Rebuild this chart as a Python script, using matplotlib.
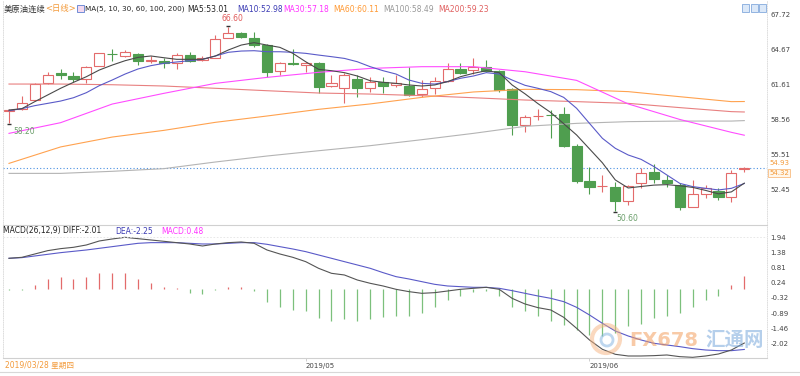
import matplotlib
matplotlib.use("Agg")
import matplotlib.pyplot as plt
from matplotlib.patches import Rectangle, Circle
import numpy as np

plt.rcParams['font.family'] = ['DejaVu Sans', 'Noto Sans CJK SC']

# ---- daily candles, 2019/03/28 .. 2019/06/19 ----
opens = [59.30, 59.45, 60.20, 61.70, 62.55, 62.33, 62.04, 63.23, 64.28, 64.10,
         64.24, 63.60, 63.66, 63.49, 64.15, 63.72, 63.92, 65.66, 66.04, 65.60,
         65.02, 62.79, 63.43, 63.28, 63.43, 61.46, 61.26, 62.04, 61.26, 61.84,
         61.52, 61.46, 60.76, 61.26, 61.92, 62.91, 62.85, 63.08, 62.79, 61.17,
         58.07, 58.85, 58.95, 58.99, 56.24, 53.20, 52.75, 52.65, 51.49, 52.99,
         54.01, 53.29, 52.85, 50.91, 52.07, 52.33, 51.84, 54.20]
highs = [59.50, 60.55, 61.75, 62.70, 62.90, 62.70, 63.20, 64.36, 64.65, 64.60,
         64.36, 64.07, 63.86, 64.30, 64.44, 64.10, 65.89, 66.60, 66.18, 66.18,
         65.11, 63.57, 64.65, 63.57, 63.57, 62.42, 62.56, 62.42, 62.27, 62.27,
         62.42, 63.14, 61.98, 62.21, 63.43, 63.49, 63.86, 63.72, 62.85, 61.26,
         58.94, 59.43, 59.37, 59.60, 56.42, 54.45, 53.72, 53.14, 52.85, 54.30,
         54.68, 53.72, 52.99, 53.29, 52.85, 52.56, 54.15, 54.45]
lows = [58.20, 59.40, 60.15, 61.60, 62.05, 61.85, 61.75, 63.23, 63.66, 64.00,
        63.28, 63.49, 63.05, 62.91, 63.57, 63.66, 63.90, 65.60, 65.60, 64.88,
        62.27, 62.42, 63.28, 62.70, 60.82, 61.40, 60.01, 60.53, 60.97, 60.82,
        61.40, 60.59, 60.53, 60.76, 61.84, 62.50, 62.50, 62.70, 60.97, 57.20,
        57.49, 58.50, 56.91, 56.18, 52.99, 52.07, 52.27, 50.60, 51.11, 52.56,
        52.99, 52.71, 50.68, 50.90, 51.69, 51.55, 51.40, 54.00]
closes = [59.40, 60.00, 61.60, 62.45, 62.45, 62.04, 63.08, 64.30, 64.20, 64.39,
          63.66, 63.70, 63.43, 64.15, 63.66, 63.92, 65.52, 66.04, 65.75, 65.02,
          62.70, 63.43, 63.37, 63.49, 61.40, 61.75, 62.42, 61.26, 61.84, 61.46,
          61.69, 60.68, 61.17, 61.92, 62.91, 62.56, 63.14, 62.79, 61.11, 58.07,
          58.79, 58.88, 58.90, 56.27, 53.20, 52.71, 52.80, 51.46, 52.76, 53.86,
          53.34, 52.99, 50.97, 52.04, 52.56, 51.84, 53.86, 54.32]

ma5 = [59.37, 59.49, 60.10, 60.68, 61.26, 61.78, 62.27, 62.85, 63.28, 63.66,
       63.95, 64.07, 63.92, 63.78, 63.78, 63.78, 64.07, 64.59, 65.02, 65.23,
       65.02, 64.82, 64.30, 63.57, 62.91, 62.79, 62.62, 62.33, 61.92, 61.78,
       61.69, 61.55, 61.46, 61.55, 61.84, 62.27, 62.56, 62.79, 62.62, 61.55,
       60.78, 59.93, 59.15, 58.18, 57.20, 55.99, 54.78, 53.29, 52.59, 52.72,
       52.84, 52.88, 52.78, 52.64, 52.38, 52.08, 52.25, 53.01]
ma10 = [59.31, 59.49, 59.75, 59.95, 60.15, 60.44, 60.88, 61.49, 61.98, 62.50,
        62.94, 63.23, 63.43, 63.55, 63.66, 63.78, 64.07, 64.39, 64.50, 64.53,
        64.44, 64.44, 64.39, 64.30, 64.15, 64.01, 63.86, 63.57, 63.14, 62.79,
        62.50, 61.98, 61.69, 61.63, 61.84, 62.13, 62.33, 62.62, 62.50, 61.98,
        61.52, 61.26, 60.97, 60.47, 59.52, 58.21, 56.91, 56.04, 55.46, 55.08,
        54.45, 53.72, 52.99, 52.71, 52.56, 52.42, 52.56, 52.98]

# slower averages, read every 4th session
slow_idx = [0, 4, 8, 12, 16, 20, 24, 28, 32, 36, 40, 44, 48, 52, 56, 57]
ma30 = [57.34, 58.27, 59.89, 60.82, 61.69, 62.21, 62.65, 62.99, 63.14, 63.14,
        62.70, 61.95, 59.90, 58.55, 57.43, 57.18]
ma60 = [54.73, 56.16, 57.02, 57.60, 58.30, 58.85, 59.43, 59.90, 60.47, 60.94,
        61.17, 61.14, 60.97, 60.53, 60.10, 60.11]
ma100 = [53.86, 53.86, 54.04, 54.27, 54.85, 55.37, 55.83, 56.27, 56.79, 57.34,
         57.95, 58.21, 58.36, 58.41, 58.41, 58.45]
ma200 = [61.63, 61.63, 61.57, 61.46, 61.26, 61.05, 60.85, 60.76, 60.62, 60.44,
         60.24, 60.10, 59.95, 59.58, 59.23, 59.20]

# MACD(26,12,9)
diff = [1.155, 1.192, 1.316, 1.441, 1.516, 1.566, 1.653, 1.802, 1.877, 1.939,
        1.889, 1.839, 1.790, 1.740, 1.690, 1.615, 1.690, 1.740, 1.765, 1.715,
        1.466, 1.316, 1.192, 1.030, 0.781, 0.594, 0.532, 0.345, 0.221, 0.121,
        -0.003, -0.090, -0.153, -0.128, -0.066, -0.003, 0.034, 0.071, -0.003, -0.340,
        -0.551, -0.688, -0.775, -1.049, -1.460, -1.896, -2.245, -2.431, -2.494, -2.494,
        -2.481, -2.456, -2.519, -2.544, -2.494, -2.419, -2.270, -2.010]
dea = [1.155, 1.180, 1.242, 1.304, 1.366, 1.416, 1.466, 1.528, 1.590, 1.653,
       1.715, 1.740, 1.740, 1.740, 1.715, 1.690, 1.690, 1.715, 1.740, 1.740,
       1.678, 1.590, 1.503, 1.404, 1.279, 1.155, 1.030, 0.906, 0.781, 0.619,
       0.470, 0.383, 0.283, 0.183, 0.121, 0.096, 0.071, 0.071, 0.034, -0.053,
       -0.153, -0.252, -0.340, -0.464, -0.676, -0.962, -1.274, -1.560, -1.747, -1.896,
       -2.020, -2.083, -2.145, -2.220, -2.270, -2.295, -2.295, -2.250]
macd = [-0.04, -0.04, 0.16, 0.37, 0.45, 0.37, 0.47, 0.62, 0.62, 0.60,
        0.39, 0.25, 0.07, 0.04, -0.15, -0.19, -0.04, 0.07, 0.07, -0.06,
        -0.46, -0.67, -0.77, -0.80, -1.08, -1.17, -1.12, -1.17, -1.12, -1.05,
        -1.00, -1.00, -0.90, -0.67, -0.40, -0.25, -0.09, -0.05, -0.27, -0.67,
        -0.83, -1.00, -1.17, -1.33, -1.52, -1.71, -1.74, -1.64, -1.39, -1.29,
        -1.08, -1.00, -0.87, -0.67, -0.42, -0.27, 0.16, 0.48]

price_ticks = [67.72, 64.67, 61.61, 58.56, 55.51, 52.45]
macd_ticks = [1.94, 1.38, 0.81, 0.24, -0.32, -0.89, -1.46, -2.02]
month_idx = [23, 45]
month_labels = ['2019/05', '2019/06']

RED = '#e36b6b'
GREEN = '#4f9e4f'
W, H = 800, 376

fig = plt.figure(figsize=(W / 100, H / 100), dpi=100)
fig.patch.set_facecolor('white')


def px_axes(x0, y0, x1, y1):
    return fig.add_axes([x0 / W, 1 - y1 / H, (x1 - x0) / W, (y1 - y0) / H])


ax = px_axes(3, 0, 767, 225)
mx = px_axes(3, 225, 767, 358)
n = len(closes)
xs = np.arange(n)

# candles
bw = 0.78
for i in range(n):
    o, h, l, c = opens[i], highs[i], lows[i], closes[i]
    lo_b, hi_b = min(o, c), max(o, c)
    if c >= o:
        ax.vlines(i, hi_b, h, color=RED, lw=0.8, zorder=2)
        ax.vlines(i, l, lo_b, color=RED, lw=0.8, zorder=2)
        ax.add_patch(Rectangle((i - bw / 2, lo_b), bw, max(hi_b - lo_b, 0.03),
                               facecolor='white', edgecolor=RED, lw=0.8, zorder=2))
    else:
        ax.vlines(i, l, h, color=GREEN, lw=0.8, zorder=2)
        ax.add_patch(Rectangle((i - bw / 2, lo_b), bw, max(hi_b - lo_b, 0.03),
                               facecolor=GREEN, edgecolor=GREEN, lw=0.8, zorder=2))

ax.plot(slow_idx, ma200, color='#e88080', lw=0.8, zorder=3)
ax.plot(slow_idx, ma100, color='#b4b4b4', lw=0.8, zorder=3)
ax.plot(slow_idx, ma60, color='#ffa24f', lw=0.8, zorder=3)
ax.plot(slow_idx, ma30, color='#ff4cff', lw=0.8, zorder=3)
ax.plot(xs, ma10, color='#5a5ac8', lw=0.8, zorder=4)
ax.plot(xs, ma5, color='#4a4a4a', lw=0.8, zorder=4)

ax.axhline(closes[-1], color='#4a90e2', ls=(0, (1, 2)), lw=0.8, zorder=1)

# extremes
hi_i = int(np.argmax(highs))
ax.text(hi_i - 0.5, highs[hi_i] + 0.3, f'{highs[hi_i]:.2f}', color='#e05a5a',
        fontsize=5.5, ha='left', va='bottom')
ax.text(0.3, lows[0] - 0.3, f'{lows[0]:.2f}', color='#6a9e6a', fontsize=5.5,
        ha='left', va='top')
lo_i = int(np.argmin(lows))
ax.text(lo_i + 0.1, lows[lo_i] - 0.25, f'{lows[lo_i]:.2f}', color='#6a9e6a',
        fontsize=5.5, ha='left', va='top')
ax.plot([hi_i, 0, lo_i], [highs[hi_i] + 0.12, lows[0] - 0.08, lows[lo_i] - 0.08],
        ls='none', marker='_', ms=3, color='#333333', zorder=5)

ax.set_xlim(-0.465, 58.76)
ax.set_ylim(49.37, 68.94)
ax.set_xticks([])
ax.yaxis.tick_right()
ax.set_yticks(price_ticks)
ax.set_yticklabels([f'{t:.2f}' for t in price_ticks])
ax.tick_params(axis='y', length=0, pad=2.5, labelsize=5, labelcolor='#444444')
for s in ['top', 'bottom']:
    ax.spines[s].set_visible(False)
for s in ['left', 'right']:
    ax.spines[s].set_color('#d8d8d8')
    ax.spines[s].set_linestyle(':')
    ax.spines[s].set_linewidth(0.6)

ax.text(1.003, 54.76, '54.93', transform=ax.get_yaxis_transform(), color='#f39a3a',
        fontsize=5, va='center', ha='left')
ax.text(1.003, 53.86, '54.32', transform=ax.get_yaxis_transform(), color='#f39a3a',
        fontsize=5, va='center', ha='left',
        bbox=dict(boxstyle='square,pad=0.15', fc='#fff6ea', ec='#f7b06a', lw=0.5))

# MACD panel
mx.vlines(xs, 0, macd, colors=[RED if v > 0 else '#7cc07c' for v in macd], lw=0.9)
mx.plot(xs, dea, color='#5a5ac8', lw=0.8)
mx.plot(xs, diff, color='#555555', lw=0.8)
mx.axhline(macd_ticks[0], color='#e4e4e4', ls=(0, (2, 2)), lw=0.6)
mx.set_xlim(-0.465, 58.76)
mx.set_ylim(-2.569, 2.399)
mx.yaxis.tick_right()
mx.set_yticks(macd_ticks)
mx.set_yticklabels([f'{t:.2f}' for t in macd_ticks])
mx.tick_params(axis='y', length=0, pad=2.5, labelsize=5, labelcolor='#444444')
mx.set_xticks(month_idx)
mx.set_xticklabels(month_labels, ha='left')
mx.tick_params(axis='x', length=2, width=0.5, color='#bbbbbb', pad=1.5,
               labelsize=5, labelcolor='#444444')
for s in ['top', 'bottom']:
    mx.spines[s].set_color('#d0d0d0')
    mx.spines[s].set_linewidth(0.8)
for s in ['left', 'right']:
    mx.spines[s].set_color('#d8d8d8')
    mx.spines[s].set_linestyle(':')
    mx.spines[s].set_linewidth(0.6)

# overlay in pixel coordinates for headers and watermark
ov = fig.add_axes([0, 0, 1, 1])
ov.set_xlim(0, W)
ov.set_ylim(H, 0)
ov.axis('off')

header = [(4, '美原油连续', '#333333', 6), (45, '<日线>', '#f39a3a', 6),
          (85, 'MA(5, 10, 30, 60, 100, 200)', '#222222', 5.2),
          (187, 'MA5:53.01', '#222222', 5.5), (237, 'MA10:52.98', '#3c3cb4', 5.5),
          (283, 'MA30:57.18', '#ff33ff', 5.5), (333, 'MA60:60.11', '#ff9933', 5.5),
          (383, 'MA100:58.49', '#999999', 5.5), (438, 'MA200:59.23', '#e06060', 5.5)]
for x, t, c, fs in header:
    ov.text(x, 9, t, color=c, fontsize=fs, ha='left', va='center')
ov.add_patch(Rectangle((77, 5), 7, 7, fc='#f4d9ef', ec='#5b7fd0', lw=0.6))
for k in range(3):
    ov.add_patch(Rectangle((742 + k * 8.5, 4), 7, 8, fc='#dbe8f8', ec='#6f9bd6', lw=0.5))

macd_head = [(3, 'MACD(26,12,9) DIFF:-2.01', '#222222'), (115, 'DEA:-2.25', '#3c3cb4'),
             (161, 'MACD:0.48', '#ff33ff')]
for x, t, c in macd_head:
    ov.text(x, 231, t, color=c, fontsize=5.5, ha='left', va='center')

ov.text(5, 365, '2019/03/28 星期四', color='#f39a3a', fontsize=5.5, ha='left', va='center')
ov.plot([0, W], [372, 372], color='#d8d8d8', lw=0.8)

# watermark
ov.add_patch(Circle((606, 339), 14, fc='none', ec='#f6b27e', lw=3, alpha=0.5))
ov.add_patch(Circle((607, 340), 6, fc='none', ec='#7fb0e0', lw=2, alpha=0.5))
ov.text(629, 340, 'FX678', color='#f3a060', fontsize=14, fontweight='bold',
        alpha=0.55, ha='left', va='center')
ov.text(705, 340, '汇通网', color='#78a8dc', fontsize=14, fontweight='bold',
        alpha=0.55, ha='left', va='center')

fig.savefig('out.png', dpi=100)
